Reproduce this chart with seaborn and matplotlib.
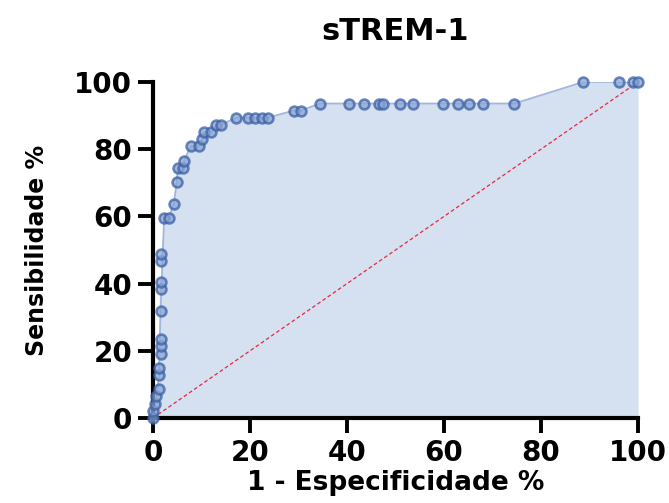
import matplotlib
matplotlib.use("Agg")
import matplotlib.pyplot as plt
import seaborn as sns
import pandas as pd

# ROC points (1 - specificity %, sensitivity %)
fpr = [0, 0, 0.5, 0.7, 1.2, 1.2, 1.2, 1.6, 1.6, 1.6, 1.6, 1.6, 1.6, 1.6, 1.6,
       2.3, 3.3, 4.3, 4.9, 5.1, 6.2, 6.4, 7.8, 9.5, 10.2, 10.5, 12.0, 13.0, 14.0,
       17.1, 19.5, 21.0, 22.5, 23.7, 29.0, 30.5, 34.4, 40.5, 43.6, 46.5, 47.5,
       51.0, 53.7, 59.7, 62.8, 65.2, 68.1, 74.5, 88.7, 96.1, 99.0, 100]
tpr = [0, 2.1, 4.3, 6.4, 8.5, 12.8, 14.9, 19.1, 21.3, 23.4, 31.9, 38.3, 40.4, 46.8, 48.9,
       59.6, 59.6, 63.8, 70.2, 74.5, 74.5, 76.6, 80.9, 80.9, 83.0, 85.1, 85.1, 87.2, 87.2,
       89.4, 89.4, 89.4, 89.4, 89.4, 91.5, 91.5, 93.6, 93.6, 93.6, 93.6, 93.6,
       93.6, 93.6, 93.6, 93.6, 93.6, 93.6, 93.6, 100, 100, 100, 100]
diag = [0, 100]
xticks = [0, 20, 40, 60, 80, 100]
yticks = [0, 20, 40, 60, 80, 100]
title = "sTREM-1"
xlabel = "1 - Especificidade %"
ylabel = "Sensibilidade %"

df = pd.DataFrame({"fpr": fpr, "tpr": tpr})

sns.set_style("ticks")
plt.rcParams["font.family"] = ["DejaVu Sans"]
plt.rcParams["text.color"] = "black"
plt.rcParams["axes.labelcolor"] = "black"
plt.rcParams["xtick.color"] = "black"
plt.rcParams["ytick.color"] = "black"

fig = plt.figure(figsize=(6.69, 5.03), dpi=100)
ax = fig.add_axes([153/669, 85/503, (638-153)/669, (418-82)/503])

ax.fill_between(df["fpr"], df["tpr"], 0, color="#d5e0f0", zorder=1, linewidth=0)
sns.lineplot(data=df, x="fpr", y="tpr", ax=ax, color="#a3b7db", linewidth=1.3,
             sort=False, zorder=2)
ax.plot(diag, diag, color="#e8283c", linestyle=(0, (3, 2)), linewidth=0.9, zorder=3)
sns.scatterplot(data=df, x="fpr", y="tpr", ax=ax, s=50, color="#8aa4d4",
                edgecolor="#3d62a8", linewidth=1.9, alpha=0.75, zorder=4, clip_on=False)

ax.set_xlim(0, 100)
ax.set_ylim(0, 100)
ax.set_xticks(xticks)
ax.set_yticks(yticks)
ax.set_xticklabels([str(t) for t in xticks], fontsize=20, fontweight="bold")
ax.set_yticklabels([str(t) for t in yticks], fontsize=20, fontweight="bold")
ax.tick_params(axis="both", length=11, width=2.8, color="black", labelcolor="black", pad=4)
for side in ["left", "bottom"]:
    ax.spines[side].set_linewidth(3)
    ax.spines[side].set_color("black")
sns.despine(ax=ax)

ax.set_xlabel(xlabel, fontsize=19, fontweight="bold", labelpad=2, color="black")
ax.set_ylabel(ylabel, fontsize=17, fontweight="bold", labelpad=18, color="black")
fig.text(0.5 * (153 + 638) / 669, 1 - 31/503, title, ha="center", va="center",
         fontsize=22, fontweight="bold", color="black")

fig.savefig("out.png", dpi=100)
